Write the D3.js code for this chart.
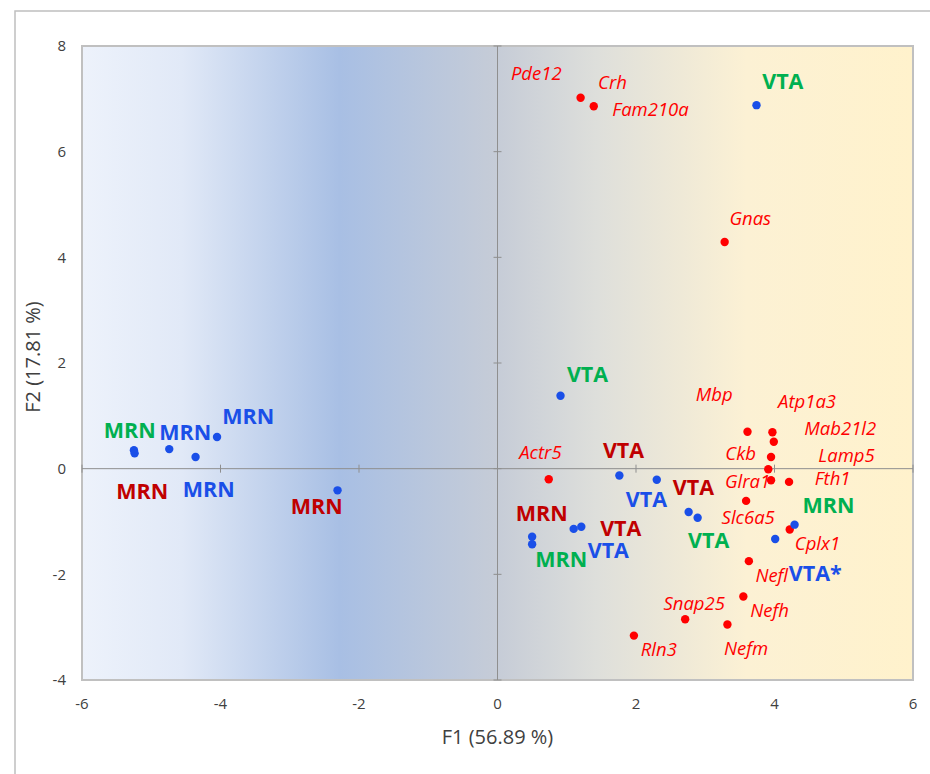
<!DOCTYPE html>
<html><head><meta charset="utf-8">
<script src="https://cdn.jsdelivr.net/npm/d3@7"></script>
<style>body{margin:0;background:#fff}svg{display:block}</style>
</head><body>
<script>
// ---- data ----
const xTicks = [-6,-4,-2,0,2,4,6];
const yTicks = [-4,-2,0,2,4,6,8];
const xTitle = "F1 (56.89 %)";
const yTitle = "F2 (17.81 %)";

// sample observations (blue points)
const sampleX = [3.74, 0.91, -5.25, -5.24, -4.74, -4.05, -4.36, -2.31, 1.76, 2.30, 2.76, 2.89, 1.10, 1.21, 0.50, 0.50, 4.29, 4.01];
const sampleY = [6.88, 1.38, 0.35, 0.29, 0.37, 0.60, 0.22, -0.41, -0.13, -0.21, -0.82, -0.93, -1.14, -1.10, -1.29, -1.43, -1.06, -1.33];

// gene variables (red points)
const geneNames = ["Pde12","Crh","Gnas","Mbp","Atp1a3","Mab21l2","Lamp5","Ckb","Glra1","Fth1","Slc6a5","Cplx1","Actr5","Nefl","Nefh","Snap25","Nefm","Rln3"];
const geneX = [1.20, 1.39, 3.28, 3.61, 3.97, 3.99, 3.95, 3.91, 3.95, 4.21, 3.59, 4.22, 0.74, 3.63, 3.55, 2.71, 3.32, 1.97];
const geneY = [7.02, 6.86, 4.29, 0.70, 0.69, 0.51, 0.22, -0.01, -0.22, -0.25, -0.61, -1.15, -0.20, -1.75, -2.42, -2.85, -2.95, -3.16];

// gene label positions (data units)
const geneLabels = ["Pde12","Crh","Fam210a","Gnas","Mbp","Atp1a3","Mab21l2","Lamp5","Ckb","Glra1","Fth1","Slc6a5","Cplx1","Actr5","Nefl","Nefh","Snap25","Nefm","Rln3"];
const geneLabelX = [0.56, 1.66, 2.21, 3.65, 3.13, 4.47, 4.95, 5.04, 3.51, 3.61, 4.84, 3.62, 4.62, 0.62, 3.96, 3.93, 2.84, 3.59, 2.33];
const geneLabelY = [7.47, 7.30, 6.79, 4.73, 1.41, 1.27, 0.76, 0.25, 0.29, -0.25, -0.18, -0.93, -1.41, 0.31, -2.03, -2.69, -2.56, -3.40, -3.43];

// sample labels (coloured group names)
const sampleLabels = ["VTA","VTA","MRN","MRN","VTA","MRN",
                      "MRN","MRN","MRN","VTA","VTA","VTA*",
                      "MRN","MRN","VTA","VTA","MRN","VTA"];
const sampleLabelGroup = ["g","g","g","g","g","g","b","b","b","b","b","b","r","r","r","r","r","r"];
const sampleLabelX = [4.12, 1.30, -5.31, 4.78, 3.05, 0.92, -4.51, -3.60, -4.17, 2.15, 1.60, 4.59, -5.13, -2.61, 1.82, 2.83, 0.64, 1.78];
const sampleLabelY = [7.32, 1.79, 0.73, -0.70, -1.35, -1.71, 0.69, 0.98, -0.40, -0.59, -1.54, -1.99, -0.44, -0.71, 0.34, -0.35, -0.84, -1.14];
const groupColor = {g:"#00b050", b:"#1a4fe8", r:"#c00000"};

// ---- layout ----
const W = 930, H = 774;
const L = 82, R = 913, T = 46, B = 680;
const svg = d3.select("body").append("svg").attr("width", W).attr("height", H);

// outer frame
svg.append("rect").attr("x", 15).attr("y", 11).attr("width", W + 20).attr("height", H + 20)
  .attr("fill", "#fff").attr("stroke", "#bfbfbf").attr("stroke-width", 1.5);

const x = d3.scaleLinear().domain([-6, 6]).range([L, R]);
const y = d3.scaleLinear().domain([-4, 8]).range([B, T]);

// background gradient
const defs = svg.append("defs");
const grad = defs.append("linearGradient").attr("id", "bg").attr("x1", "0").attr("x2", "1").attr("y1", "0").attr("y2", "0");
[[0, "#edf2fb"], [0.12, "#e1e9f7"], [0.31, "#a8bfe4"], [0.5, "#c6ccd7"], [0.62, "#dedfdb"], [0.8, "#fcf1d4"], [1, "#fff2cc"]]
  .forEach(([o, c]) => grad.append("stop").attr("offset", o).attr("stop-color", c));

svg.append("rect").attr("x", L).attr("y", T).attr("width", R - L).attr("height", B - T)
  .attr("fill", "url(#bg)").attr("stroke", "#c0c0c0").attr("stroke-width", 2);

// zero axes
svg.append("line").attr("x1", x(0)).attr("x2", x(0)).attr("y1", T).attr("y2", B).attr("stroke", "#8f8f8f").attr("stroke-width", 1);
svg.append("line").attr("x1", L).attr("x2", R).attr("y1", y(0)).attr("y2", y(0)).attr("stroke", "#8f8f8f").attr("stroke-width", 1);

// tick marks on zero axes
svg.append("g").selectAll("line").data(yTicks).join("line")
  .attr("x1", x(0) - 4).attr("x2", x(0) + 4).attr("y1", d => y(d)).attr("y2", d => y(d))
  .attr("stroke", "#8f8f8f").attr("stroke-width", 1);
svg.append("g").selectAll("line").data(xTicks).join("line")
  .attr("x1", d => x(d)).attr("x2", d => x(d)).attr("y1", y(0) - 4).attr("y2", y(0) + 4)
  .attr("stroke", "#8f8f8f").attr("stroke-width", 1);

// tick labels
const tickFont = "'Open Sans', sans-serif";
svg.append("g").selectAll("text").data(yTicks).join("text")
  .attr("x", 66).attr("y", d => y(d)).attr("dy", "0.35em").attr("text-anchor", "end")
  .attr("font-family", tickFont).attr("font-size", 15).attr("fill", "#404040").text(d => d);
svg.append("g").selectAll("text").data(xTicks).join("text")
  .attr("x", d => x(d)).attr("y", 704).attr("dy", "0.35em").attr("text-anchor", "middle")
  .attr("font-family", tickFont).attr("font-size", 15).attr("fill", "#404040").text(d => d);

// axis titles
svg.append("text").attr("x", (L + R) / 2).attr("y", 737).attr("dy", "0.35em").attr("text-anchor", "middle")
  .attr("font-family", tickFont).attr("font-size", 20).attr("fill", "#404040").text(xTitle);
svg.append("text").attr("transform", `translate(33,${(T + B) / 2 - 6}) rotate(-90)`).attr("dy", "0.35em")
  .attr("text-anchor", "middle").attr("font-family", tickFont).attr("font-size", 20).attr("fill", "#404040").text(yTitle);

// gene labels
svg.append("g").selectAll("text").data(geneLabels).join("text")
  .attr("x", (d, i) => x(geneLabelX[i])).attr("y", (d, i) => y(geneLabelY[i])).attr("dy", "0.35em")
  .attr("text-anchor", "middle").attr("font-family", tickFont).attr("font-style", "italic")
  .attr("font-size", 18.5).attr("fill", "#ff0000").text(d => d);

// sample labels
svg.append("g").selectAll("text").data(sampleLabels).join("text")
  .attr("x", (d, i) => x(sampleLabelX[i])).attr("y", (d, i) => y(sampleLabelY[i])).attr("dy", "0.35em")
  .attr("text-anchor", "middle").attr("font-family", tickFont).attr("font-weight", "bold")
  .attr("font-size", 21.5).attr("fill", (d, i) => groupColor[sampleLabelGroup[i]]).text(d => d);

// points
svg.append("g").selectAll("circle").data(geneX).join("circle")
  .attr("cx", d => x(d)).attr("cy", (d, i) => y(geneY[i])).attr("r", 4.2).attr("fill", "#ff0000");
svg.append("g").selectAll("circle").data(sampleX).join("circle")
  .attr("cx", d => x(d)).attr("cy", (d, i) => y(sampleY[i])).attr("r", 4.2).attr("fill", "#1a4fe8");
</script>
</body></html>
